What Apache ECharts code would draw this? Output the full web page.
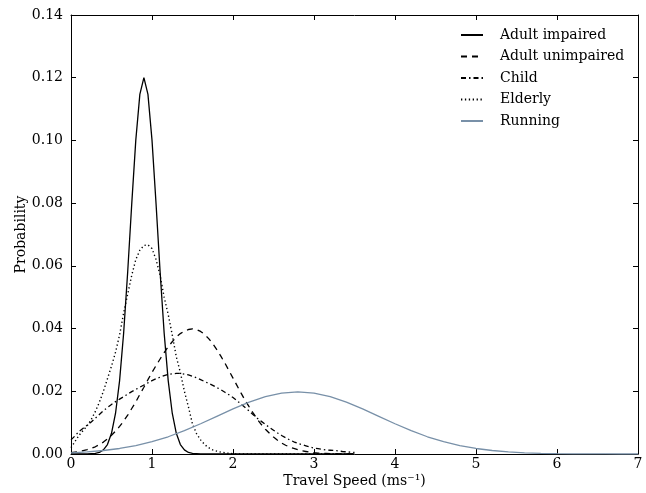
<!DOCTYPE html>
<html>
<head>
<meta charset="utf-8">
<script src="https://cdn.jsdelivr.net/npm/echarts@6/dist/echarts.min.js"></script>
<style>
html,body{margin:0;padding:0;background:#fff;}
#chart{width:646px;height:493px;}
</style>
</head>
<body>
<div id="chart"></div>
<script>
var speedGrid = [0,0.05,0.1,0.15,0.2,0.25,0.3,0.35,0.4,0.45,0.5,0.55,0.6,0.65,0.7,0.75,0.8,0.85,0.9,0.95,
  1.0,1.05,1.1,1.15,1.2,1.25,1.3,1.35,1.4,1.45,1.5,1.55,1.6,1.65,1.7,1.75,1.8,1.85,1.9,1.95,
  2.0,2.05,2.1,2.15,2.2,2.25,2.3,2.35,2.4,2.45,2.5,2.55,2.6,2.65,2.7,2.75,2.8,2.85,2.9,2.95,
  3.0,3.05,3.1,3.15,3.2,3.25,3.3,3.35,3.4,3.45,3.5];

var adultImpaired = [0,0,0,0,0,0.0001,0.0002,0.0005,0.0013,0.0030,0.0066,0.0130,0.0234,0.0386,0.0581,0.0798,0.1001,0.1147,0.1200,0.1147,
  0.1001,0.0798,0.0581,0.0386,0.0234,0.0130,0.0066,0.0030,0.0013,0.0005,0.0002,0.0001,0,0,0,0,0,0,0,0,
  0,0,0,0,0,0,0,0,0,0,0,0,0,0,0,0,0,0,0,0,
  0,0,0,0,0,0,0,0,0,0,0];

var adultUnimpaired = [0.0004,0.0006,0.0008,0.0011,0.0014,0.0018,0.0023,0.0030,0.0038,0.0048,0.0060,0.0073,0.0088,0.0105,0.0124,0.0145,0.0166,0.0190,0.0213,0.0237,
  0.0260,0.0282,0.0303,0.0323,0.0342,0.0358,0.0373,0.0384,0.0392,0.0397,0.0399,0.0397,0.0391,0.0381,0.0368,0.0352,0.0333,0.0312,0.0290,0.0266,
  0.0242,0.0218,0.0194,0.0171,0.0150,0.0130,0.0111,0.0094,0.0079,0.0066,0.0054,0.0044,0.0035,0.0028,0.0022,0.0018,0.0014,0.0010,0.0008,0.0006,
  0.0004,0.0003,0.0002,0.0002,0.0001,0.0001,0,0,0,0,0];

var child = [0.0045,0.0058,0.0072,0.0082,0.0092,0.0102,0.0114,0.0126,0.0138,0.0148,0.0158,0.0167,0.0175,0.0183,0.0191,0.0199,0.0206,0.0213,0.0220,0.0227,
  0.0234,0.0240,0.0245,0.0250,0.0254,0.0256,0.0257,0.0257,0.0255,0.0252,0.0248,0.0243,0.0237,0.0231,0.0225,0.0219,0.0212,0.0205,0.0197,0.0189,
  0.0180,0.0170,0.0159,0.0148,0.0137,0.0125,0.0114,0.0104,0.0094,0.0085,0.0076,0.0067,0.0059,0.0052,0.0045,0.0039,0.0034,0.0030,0.0026,0.0022,
  0.0019,0.0017,0.0015,0.0013,0.0012,0.0011,0.0010,0.0008,0.0007,0.0006,0.0005];

var elderly = [0.0020,0.0040,0.0060,0.0075,0.0090,0.0110,0.0135,0.0165,0.0200,0.0240,0.0280,0.0325,0.0380,0.0450,0.0510,0.0570,0.0620,0.0650,0.0665,0.0667,
  0.0655,0.0620,0.0570,0.0500,0.0445,0.0380,0.0310,0.0260,0.0200,0.0150,0.0095,0.0065,0.0045,0.0030,0.0020,0.0013,0.0009,0.0006,0.0004,0.0002,
  0.0001,0,0,0,0,0,0,0,0,0,0,0,0,0,0,0,0,0,0,0,
  0,0,0,0,0,0,0,0,0,0,0];

var runningSpeeds = [0,0.2,0.4,0.6,0.8,1.0,1.2,1.4,1.6,1.8,2.0,2.2,2.4,2.6,2.8,3.0,3.2,3.4,3.6,3.8,
  4.0,4.2,4.4,4.6,4.8,5.0,5.2,5.4,5.6,5.8,6.0,6.2,6.4,6.6,6.8,7.0];
var running = [0.00039,0.00067,0.00111,0.00176,0.00268,0.00392,0.00550,0.00743,0.00964,0.01201,0.01438,0.01654,0.01828,0.01941,0.01980,0.01941,0.01828,0.01654,0.01438,0.01201,
  0.00964,0.00743,0.00550,0.00392,0.00268,0.00176,0.00111,0.00067,0.00039,0.00022,0.00012,0.00006,0.00003,0.00001,0.000005,0];

var seriesNames = ['Adult impaired','Adult unimpaired','Child','Elderly','Running'];
var xTickLabels = ['0','1','2','3','4','5','6','7'];
var yTickLabels = ['0.00','0.02','0.04','0.06','0.08','0.10','0.12','0.14'];

function pairs(xs, ys){ return xs.map(function(x,i){ return [x, ys[i]]; }); }

var FONT = 'DejaVu Serif';
var FS = 14;
var chart = echarts.init(document.getElementById('chart'), null, {renderer:'canvas'});

function xAxisBase(pos, showLabel){
  return {
    type:'value', position:pos, min:0, max:7, interval:1,
    axisLine:{show:true, onZero:false, lineStyle:{color:'#000', width:1}},
    axisTick:{show:true, inside:true, length:5, lineStyle:{color:'#000'}},
    splitLine:{show:false},
    axisLabel:{show:showLabel, margin:3, color:'#000', fontFamily:FONT, fontSize:FS,
      formatter:function(v){ return xTickLabels[Math.round(v)]; }}
  };
}
function yAxisBase(pos, showLabel){
  return {
    type:'value', position:pos, min:0, max:0.14, interval:0.02,
    axisLine:{show:true, onZero:false, lineStyle:{color:'#000', width:1}},
    axisTick:{show:true, inside:true, length:5, lineStyle:{color:'#000'}},
    splitLine:{show:false},
    axisLabel:{show:showLabel, margin:8, color:'#000', fontFamily:FONT, fontSize:FS,
      formatter:function(v){ return yTickLabels[Math.round(v/0.02)]; }}
  };
}

var xb = xAxisBase('bottom', true);
xb.name = 'Travel Speed (ms\u207B\u00B9)';
xb.nameLocation = 'middle';
xb.nameGap = 20;
xb.nameMoveOverlap = false;
xb.nameTextStyle = {color:'#000', fontFamily:FONT, fontSize:FS};
var yl = yAxisBase('left', true);
yl.name = 'Probability';
yl.nameLocation = 'middle';
yl.nameGap = 43;
yl.nameMoveOverlap = false;
yl.nameTextStyle = {color:'#000', fontFamily:FONT, fontSize:FS};

function lineSeries(name, data, color, type, width){
  return {
    name:name, type:'line', data:data, xAxisIndex:0, yAxisIndex:0,
    symbol:'none', showSymbol:false, smooth:false, animation:false,
    lineStyle:{color:color, width:width, type:type},
    itemStyle:{color:color}
  };
}

chart.setOption({
  animation:false,
  backgroundColor:'#fff',
  grid:{left:71, right:8, top:15, bottom:39, containLabel:false},
  xAxis:[xb, xAxisBase('top', false)],
  yAxis:[yl, yAxisBase('right', false)],
  legend:{
    orient:'vertical', left:460, top:28, padding:0, itemWidth:22, itemHeight:14, itemGap:7.5,
    itemStyle:{color:'rgba(0,0,0,0)', borderColor:'rgba(0,0,0,0)', borderWidth:0, opacity:0},
    textStyle:{color:'#000', fontFamily:FONT, fontSize:FS, padding:[0,0,0,12]},
    data:seriesNames
  },
  series:[
    lineSeries(seriesNames[0], pairs(speedGrid, adultImpaired), '#000', 'solid', 1.3),
    lineSeries(seriesNames[1], pairs(speedGrid, adultUnimpaired), '#000', [6,5], 1.3),
    lineSeries(seriesNames[2], pairs(speedGrid, child), '#000', [5,3,1.5,3], 1.3),
    lineSeries(seriesNames[3], pairs(speedGrid, elderly), '#000', [1.3,2.6], 1.4),
    lineSeries(seriesNames[4], pairs(runningSpeeds, running), '#7890a8', 'solid', 1.3)
  ]
});
</script>
</body>
</html>
